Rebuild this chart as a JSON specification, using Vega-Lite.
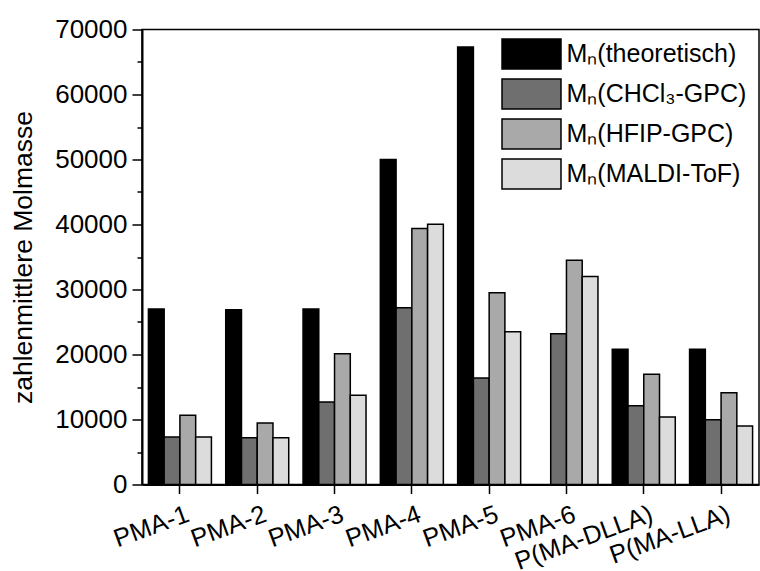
{
  "$schema": "https://vega.github.io/schema/vega-lite/v6.json",
  "autosize": "none",
  "width": 617,
  "height": 455,
  "padding": {"left": 142, "top": 29.5, "right": 1, "bottom": 86.5},
  "background": "white",
  "data": {
    "values": [
      {"Probe": "PMA-1", "Methode": "Mₙ(theoretisch)", "Mn": 27000},
      {"Probe": "PMA-1", "Methode": "Mₙ(CHCl₃-GPC)", "Mn": 7300},
      {"Probe": "PMA-1", "Methode": "Mₙ(HFIP-GPC)", "Mn": 10650},
      {"Probe": "PMA-1", "Methode": "Mₙ(MALDI-ToF)", "Mn": 7300},
      {"Probe": "PMA-2", "Methode": "Mₙ(theoretisch)", "Mn": 26900},
      {"Probe": "PMA-2", "Methode": "Mₙ(CHCl₃-GPC)", "Mn": 7200},
      {"Probe": "PMA-2", "Methode": "Mₙ(HFIP-GPC)", "Mn": 9450},
      {"Probe": "PMA-2", "Methode": "Mₙ(MALDI-ToF)", "Mn": 7200},
      {"Probe": "PMA-3", "Methode": "Mₙ(theoretisch)", "Mn": 27000},
      {"Probe": "PMA-3", "Methode": "Mₙ(CHCl₃-GPC)", "Mn": 12700},
      {"Probe": "PMA-3", "Methode": "Mₙ(HFIP-GPC)", "Mn": 20100},
      {"Probe": "PMA-3", "Methode": "Mₙ(MALDI-ToF)", "Mn": 13750},
      {"Probe": "PMA-4", "Methode": "Mₙ(theoretisch)", "Mn": 50000},
      {"Probe": "PMA-4", "Methode": "Mₙ(CHCl₃-GPC)", "Mn": 27200},
      {"Probe": "PMA-4", "Methode": "Mₙ(HFIP-GPC)", "Mn": 39400},
      {"Probe": "PMA-4", "Methode": "Mₙ(MALDI-ToF)", "Mn": 40050},
      {"Probe": "PMA-5", "Methode": "Mₙ(theoretisch)", "Mn": 67300},
      {"Probe": "PMA-5", "Methode": "Mₙ(CHCl₃-GPC)", "Mn": 16400},
      {"Probe": "PMA-5", "Methode": "Mₙ(HFIP-GPC)", "Mn": 29500},
      {"Probe": "PMA-5", "Methode": "Mₙ(MALDI-ToF)", "Mn": 23500},
      {"Probe": "PMA-6", "Methode": "Mₙ(CHCl₃-GPC)", "Mn": 23200},
      {"Probe": "PMA-6", "Methode": "Mₙ(HFIP-GPC)", "Mn": 34500},
      {"Probe": "PMA-6", "Methode": "Mₙ(MALDI-ToF)", "Mn": 32000},
      {"Probe": "P(MA-DLLA)", "Methode": "Mₙ(theoretisch)", "Mn": 20800},
      {"Probe": "P(MA-DLLA)", "Methode": "Mₙ(CHCl₃-GPC)", "Mn": 12100},
      {"Probe": "P(MA-DLLA)", "Methode": "Mₙ(HFIP-GPC)", "Mn": 16950},
      {"Probe": "P(MA-DLLA)", "Methode": "Mₙ(MALDI-ToF)", "Mn": 10400},
      {"Probe": "P(MA-LLA)", "Methode": "Mₙ(theoretisch)", "Mn": 20800},
      {"Probe": "P(MA-LLA)", "Methode": "Mₙ(CHCl₃-GPC)", "Mn": 9970},
      {"Probe": "P(MA-LLA)", "Methode": "Mₙ(HFIP-GPC)", "Mn": 14100},
      {"Probe": "P(MA-LLA)", "Methode": "Mₙ(MALDI-ToF)", "Mn": 9000}
    ]
  },
  "mark": {"type": "bar", "stroke": "black", "strokeWidth": 1.5, "opacity": 1},
  "encoding": {
    "x": {
      "field": "Probe",
      "type": "nominal",
      "sort": ["PMA-1", "PMA-2", "PMA-3", "PMA-4", "PMA-5", "PMA-6", "P(MA-DLLA)", "P(MA-LLA)"],
      "scale": {"paddingInner": 0.185, "paddingOuter": 0.083},
      "axis": {
        "title": null,
        "labelAngle": -20,
        "labelAlign": "right",
        "labelBaseline": "top",
        "labelFontSize": 25.5,
        "labelColor": "black",
        "labelOffset": 4,
        "labelPadding": 8,
        "tickSize": 9,
        "tickWidth": 1.5,
        "tickColor": "black",
        "domainColor": "black",
        "domainWidth": 2,
        "grid": false
      }
    },
    "xOffset": {
      "field": "Methode",
      "type": "nominal",
      "sort": ["Mₙ(theoretisch)", "Mₙ(CHCl₃-GPC)", "Mₙ(HFIP-GPC)", "Mₙ(MALDI-ToF)"],
      "scale": {"domain": ["Mₙ(theoretisch)", "Mₙ(CHCl₃-GPC)", "Mₙ(HFIP-GPC)", "Mₙ(MALDI-ToF)"], "paddingInner": 0, "paddingOuter": 0}
    },
    "y": {
      "field": "Mn",
      "type": "quantitative",
      "scale": {"domain": [0, 70000], "nice": false, "zero": true},
      "axis": {
        "title": "zahlenmittlere Molmasse",
        "titleFontSize": 26.5,
        "titleFontWeight": "normal",
        "titleColor": "black",
        "titlePadding": 17,
        "values": [0, 5000, 10000, 15000, 20000, 25000, 30000, 35000, 40000, 45000, 50000, 55000, 60000, 65000, 70000],
        "labelExpr": "datum.value % 10000 === 0 ? datum.value : ''",
        "labelFontSize": 26,
        "labelColor": "black",
        "labelPadding": 5,
        "tickSize": {"condition": {"test": "datum.value % 10000 === 0", "value": 10}, "value": 5},
        "tickWidth": 1.5,
        "tickColor": "black",
        "domainColor": "black",
        "domainWidth": 2,
        "grid": false
      }
    },
    "fill": {
      "field": "Methode",
      "type": "nominal",
      "scale": {
        "domain": ["Mₙ(theoretisch)", "Mₙ(CHCl₃-GPC)", "Mₙ(HFIP-GPC)", "Mₙ(MALDI-ToF)"],
        "range": ["#000000", "#6f6f6f", "#a9a9a9", "#dcdcdc"]
      },
      "legend": {
        "title": null,
        "orient": "none",
        "legendX": 374,
        "legendY": 9,
        "symbolType": "M-2,-1.02H2V1.02H-2Z",
        "symbolSize": 870,
        "symbolStrokeColor": "black",
        "symbolStrokeWidth": 1.5,
        "symbolOpacity": 1,
        "labelFontSize": 25,
        "labelColor": "black",
        "labelOffset": 19.5,
        "labelLimit": 0,
        "rowPadding": 3
      }
    }
  },
  "config": {
    "font": "Liberation Sans",
    "view": {"stroke": "black", "strokeWidth": 1.5}
  }
}
